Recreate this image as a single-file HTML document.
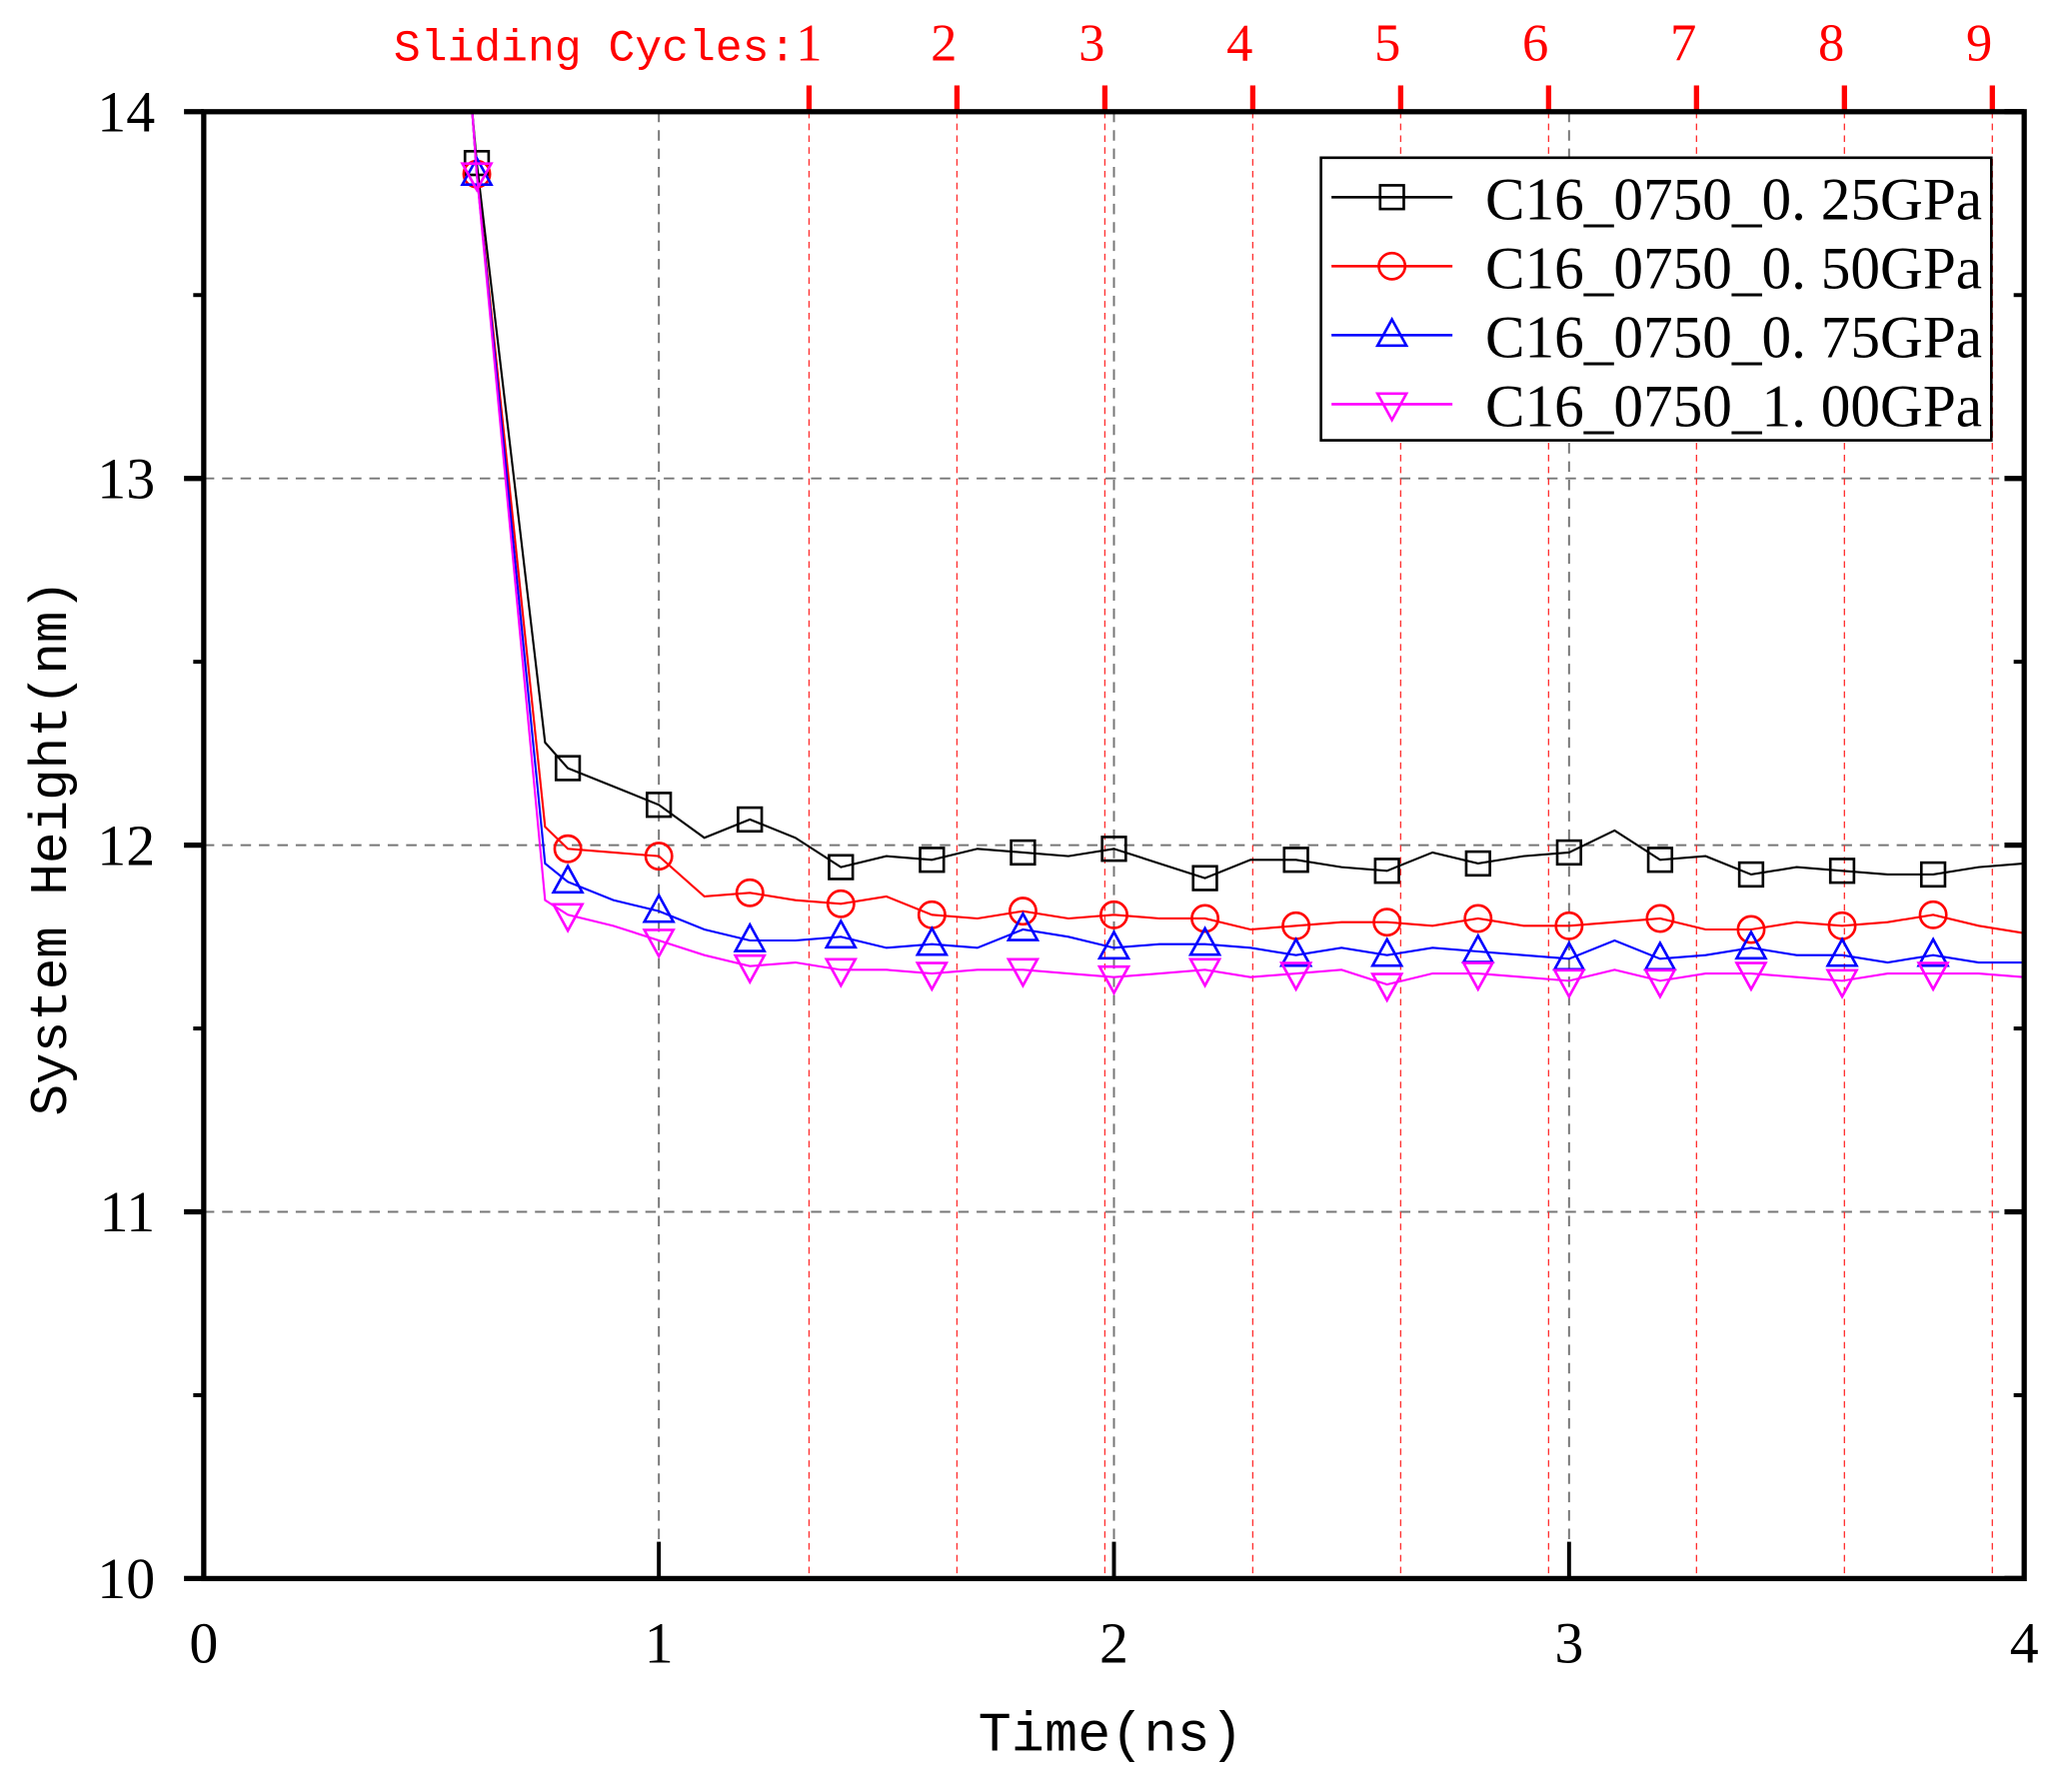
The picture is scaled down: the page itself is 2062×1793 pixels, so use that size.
<!DOCTYPE html>
<html><head><meta charset="utf-8"><style>html,body{margin:0;padding:0;background:#fff}svg{display:block}</style></head>
<body>
<svg id="chart" width="2062" height="1793" viewBox="0 0 1568 1363.4" preserveAspectRatio="none" xmlns="http://www.w3.org/2000/svg">
<rect x="0" y="0" width="1568" height="1363.4" fill="#fff"/>
<g id="grid"></g>
<g id="series"></g>
<g id="axes"></g>
<g id="legend"></g>
</svg>
<script>
const xTicks = [0, 1, 2, 3, 4];
const yTicks = [10, 11, 12, 13, 14];
const yMinor = [10.5, 11.5, 12.5, 13.5];
const cycleLabels = ["1","2","3","4","5","6","7","8","9"];
const cycleTimes = [1.33, 1.655, 1.98, 2.305, 2.63, 2.955, 3.28, 3.605, 3.93];
const times = [0.59,0.6,0.75,0.8,0.9,1.0,1.1,1.2,1.3,1.4,1.5,1.6,1.7,1.8,1.9,2.0,2.1,2.2,2.3,2.4,2.5,2.6,2.7,2.8,2.9,3.0,3.1,3.2,3.3,3.4,3.5,3.6,3.7,3.8,3.9,4.0];
const s025 = [14.0,13.86,12.28,12.21,12.16,12.11,12.02,12.07,12.02,11.94,11.97,11.96,11.99,11.98,11.97,11.99,11.95,11.91,11.96,11.96,11.94,11.93,11.98,11.95,11.97,11.98,12.04,11.96,11.97,11.92,11.94,11.93,11.92,11.92,11.94,11.95];
const s050 = [14.0,13.83,12.05,11.99,11.98,11.97,11.86,11.87,11.85,11.84,11.86,11.81,11.80,11.82,11.80,11.81,11.80,11.80,11.77,11.78,11.79,11.79,11.78,11.80,11.78,11.78,11.79,11.80,11.77,11.77,11.79,11.78,11.79,11.81,11.78,11.76];
const s075 = [14.0,13.83,11.95,11.90,11.85,11.82,11.77,11.74,11.74,11.75,11.72,11.73,11.72,11.77,11.75,11.72,11.73,11.73,11.72,11.70,11.72,11.70,11.72,11.71,11.70,11.69,11.74,11.69,11.70,11.72,11.70,11.70,11.68,11.70,11.68,11.68];
const s100 = [14.0,13.83,11.85,11.81,11.78,11.74,11.70,11.67,11.68,11.66,11.66,11.65,11.66,11.66,11.65,11.64,11.65,11.66,11.64,11.65,11.66,11.62,11.65,11.65,11.64,11.63,11.66,11.63,11.65,11.65,11.64,11.63,11.65,11.65,11.65,11.64];
const markerTimes = [0.6,0.8,1.0,1.2,1.4,1.6,1.8,2.0,2.2,2.4,2.6,2.8,3.0,3.2,3.4,3.6,3.8];
const seriesNames = ["C16_0750_0.25GPa","C16_0750_0.50GPa","C16_0750_0.75GPa","C16_0750_1.00GPa"];
const seriesColors = ["#000000","#ff0000","#0000ff","#ff00ff"];
const seriesMarkers = ["square","circle","tri-up","tri-down"];

const L=155,R=1540,T=85,B=1201;
const sx=v=>L+(v-0)/(4-0)*(R-L);
const sy=v=>B-(v-10)/(14-10)*(B-T);
const NS="http://www.w3.org/2000/svg";
function mk(tag,attrs,parent){const e=document.createElementNS(NS,tag);for(const k in attrs)e.setAttribute(k,attrs[k]);parent.appendChild(e);return e;}
const grid=document.getElementById('grid'),axes=document.getElementById('axes'),ser=document.getElementById('series'),leg=document.getElementById('legend');

xTicks.slice(1,4).forEach(t=>{const l=mk('line',{x1:sx(t),x2:sx(t),y1:T,y2:B,stroke:'#777','stroke-width':1.5,'stroke-dasharray':'8,6'},grid);

});
yTicks.slice(1,4).forEach(t=>{const l=mk('line',{x1:L,x2:R,y1:sy(t),y2:sy(t),stroke:'#777','stroke-width':1.5,'stroke-dasharray':'8,6'},grid);

});
cycleTimes.forEach((t,i)=>{const l=mk('line',{x1:sx(t),x2:sx(t),y1:T,y2:B,stroke:'#ff3030','stroke-width':1,'stroke-dasharray':'5,4'},grid);


const tk=mk('line',{x1:sx(t),x2:sx(t),y1:T-20,y2:T,stroke:'#ff0000','stroke-width':4},axes);


const tx=mk('text',{x:i===0?sx(t)+10:sx(t)-10,y:46,'text-anchor':i===0?'end':'middle',fill:'#ff0000','font-family':'Liberation Serif, serif','font-size':40},axes);
if(i===0){const sp=mk('tspan',{'font-family':'Liberation Mono, monospace','font-size':34},tx);sp.textContent='Sliding Cycles:';
 const sp2=mk('tspan',{},tx);sp2.textContent=cycleLabels[i];}
else tx.textContent=cycleLabels[i];


});

function marker(type,x,y,color,parent){
 let e;
 if(type==='square') e=mk('rect',{x:x-9,y:y-9,width:18,height:18,fill:'none',stroke:color,'stroke-width':2},parent);
 else if(type==='circle') e=mk('circle',{cx:x,cy:y,r:10,fill:'none',stroke:color,'stroke-width':2},parent);
 else if(type==='tri-up') e=mk('polygon',{points:`${x},${y-12} ${x-11},${y+8} ${x+11},${y+8}`,fill:'none',stroke:color,'stroke-width':2},parent);
 else e=mk('polygon',{points:`${x},${y+12} ${x-11},${y-8} ${x+11},${y-8}`,fill:'none',stroke:color,'stroke-width':2},parent);
 return e;
}
function interp(arr,t){for(let i=0;i<times.length-1;i++){if(t>=times[i]&&t<=times[i+1]){const f=(t-times[i])/(times[i+1]-times[i]);return arr[i]+f*(arr[i+1]-arr[i]);}}return arr[arr.length-1];}
const allSeries=[s025,s050,s075,s100];
allSeries.forEach((arr,si)=>{
 const pts=times.map((t,i)=>sx(t)+','+sy(arr[i])).join(' ');
 const pl=mk('polyline',{points:pts,fill:'none',stroke:seriesColors[si],'stroke-width':1.6},ser);
 
 
 markerTimes.forEach(t=>{const m=marker(seriesMarkers[si],sx(t),sy(interp(arr,t)),seriesColors[si],ser);
  
  });
});

const frame=mk('rect',{x:L,y:T,width:R-L,height:B-T,fill:'none',stroke:'#000','stroke-width':4},axes);


yTicks.forEach(t=>{const a=mk('line',{x1:L-15,x2:L,y1:sy(t),y2:sy(t),stroke:'#000','stroke-width':4},axes);


const b=mk('line',{x1:R-15,x2:R,y1:sy(t),y2:sy(t),stroke:'#000','stroke-width':4},axes);


const tx=mk('text',{x:118,y:sy(t)+15,'text-anchor':'end','font-family':'Liberation Serif, serif','font-size':44},axes);
tx.textContent=String(t);

});
yMinor.forEach(t=>{const a=mk('line',{x1:L-8,x2:L,y1:sy(t),y2:sy(t),stroke:'#000','stroke-width':3},axes);


const b=mk('line',{x1:R-8,x2:R,y1:sy(t),y2:sy(t),stroke:'#000','stroke-width':3},axes);

});
xTicks.forEach(t=>{const a=mk('line',{x1:sx(t),x2:sx(t),y1:B-28,y2:B,stroke:'#000','stroke-width':3},axes);


const tx=mk('text',{x:sx(t),y:1265,'text-anchor':'middle','font-family':'Liberation Serif, serif','font-size':44},axes);
tx.textContent=String(t);

});
const xt=mk('text',{x:845,y:1332,'text-anchor':'middle','font-family':'Liberation Mono, monospace','font-size':42},axes);
xt.textContent='Time(ns)';


const yt=mk('text',{x:0,y:0,'text-anchor':'middle','font-family':'Liberation Mono, monospace','font-size':40,transform:'translate(50,645) rotate(-90)'},axes);
yt.textContent='System Height(nm)';



const lb=mk('rect',{x:1005,y:120,width:510,height:215,fill:'#fff',stroke:'#000','stroke-width':2},leg);


seriesNames.forEach((n,i)=>{const y=150+i*52.5;
 const g=mk('g',{},leg);
 
 
 mk('line',{x1:1013,x2:1105,y1:y,y2:y,stroke:seriesColors[i],'stroke-width':2},g);
 const m=marker(seriesMarkers[i],1059,y,seriesColors[i],g);
 
 
 const tx=mk('text',{x:1130,y:y+17,'font-family':'Liberation Serif, serif','font-size':46,textLength:378,lengthAdjust:'spacingAndGlyphs'},g);
 tx.textContent=n.replace('0.','0. ').replace('1.','1. ');
 
 
});
</script>
</body></html>
